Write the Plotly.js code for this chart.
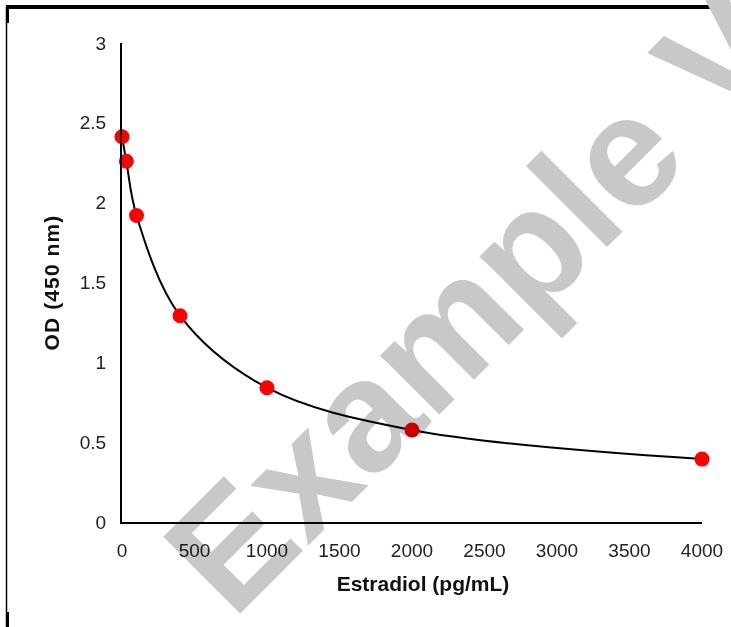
<!DOCTYPE html>
<html>
<head>
<meta charset="utf-8">
<script src="https://cdn.plot.ly/plotly-3.0.1.min.js"></script>
<style>
html,body{margin:0;padding:0;background:#fff;}
#chart{width:731px;height:627px;}
.g-ytitle text{letter-spacing:1.1px;}
</style>
</head>
<body>
<div id="chart"></div>
<script>
// Data
var concentrations = [0, 30, 100, 400, 1000, 2000, 4000];   // Estradiol (pg/mL)
var odValues      = [2.413, 2.259, 1.92, 1.292, 0.841, 0.576, 0.394]; // OD (450 nm)
var xTickVals = [0, 500, 1000, 1500, 2000, 2500, 3000, 3500, 4000];
var yTickVals = [0, 0.5, 1, 1.5, 2, 2.5, 3];
var xTitle = 'Estradiol (pg/mL)';
var yTitle = 'OD (450 nm)';
var watermarkText = 'Example V';

var W = 731, H = 627;
var M = {l: 122, r: 29, t: 43, b: 105};
var pw = W - M.l - M.r, ph = H - M.t - M.b;
function px(x){ return (x - M.l) / pw; }
function py(y){ return (H - M.b - y) / ph; }

function frameLine(x0, y0, x1, y1, w){
  return {type:'line', xref:'paper', yref:'paper', x0:px(x0), y0:py(y0), x1:px(x1), y1:py(y1),
          line:{color:'#000', width:w}, layer:'above'};
}

var traces = [
  {x: concentrations, y: odValues, mode:'lines', type:'scatter',
   line:{shape:'spline', smoothing:1, color:'#000', width:2}, cliponaxis:false, hoverinfo:'skip'},
  {x: concentrations, y: odValues, mode:'markers', type:'scatter',
   marker:{color:'#ff0000', size:15}, cliponaxis:false}
];

var layout = {
  width: W, height: H,
  margin: M,
  showlegend: false,
  paper_bgcolor:'#fff', plot_bgcolor:'#fff',
  font:{family:'Liberation Sans, Arial, sans-serif', color:'#222'},
  xaxis:{range:[0,4000], tickvals:xTickVals, showgrid:false, zeroline:false,
         showline:true, linecolor:'#000', linewidth:2, ticks:'', ticklabelstandoff:10,
         tickfont:{size:19, color:'#222'},
         title:{text:xTitle, font:{size:21, color:'#111', weight:'bold'}, standoff:17}},
  yaxis:{range:[0,3], tickvals:yTickVals, showgrid:false, zeroline:false,
         showline:true, linecolor:'#000', linewidth:2, ticks:'', ticklabelstandoff:10,
         tickfont:{size:19, color:'#222'},
         title:{text:yTitle, font:{size:21, color:'#111', weight:'bold'}, standoff:14}},
  shapes:[
    frameLine(6, 7, 731, 7, 4),
    frameLine(6.5, 7, 6.5, 627, 1.5),
    frameLine(7.5, 5, 7.5, 23, 3),
    frameLine(7.5, 612, 7.5, 627, 3)
  ],
  annotations:[{
    text: watermarkText, xref:'paper', yref:'paper',
    x: px(476), y: py(300), xanchor:'center', yanchor:'middle',
    showarrow:false, textangle:-45,
    font:{family:'Liberation Sans, Arial, sans-serif', size:158, color:'#c8c8c8', weight:'bold'}
  }]
};

Plotly.newPlot('chart', traces, layout, {displayModeBar:false, staticPlot:true}).then(function(gd){
  var il = gd.querySelector('.infolayer');
  if (il && il.ownerSVGElement) { il.ownerSVGElement.style.mixBlendMode = 'multiply'; }
  var xt = gd.querySelector('.g-xtitle');
  if (xt) { xt.setAttribute('transform', 'translate(11,0)'); }
});
</script>
</body>
</html>
